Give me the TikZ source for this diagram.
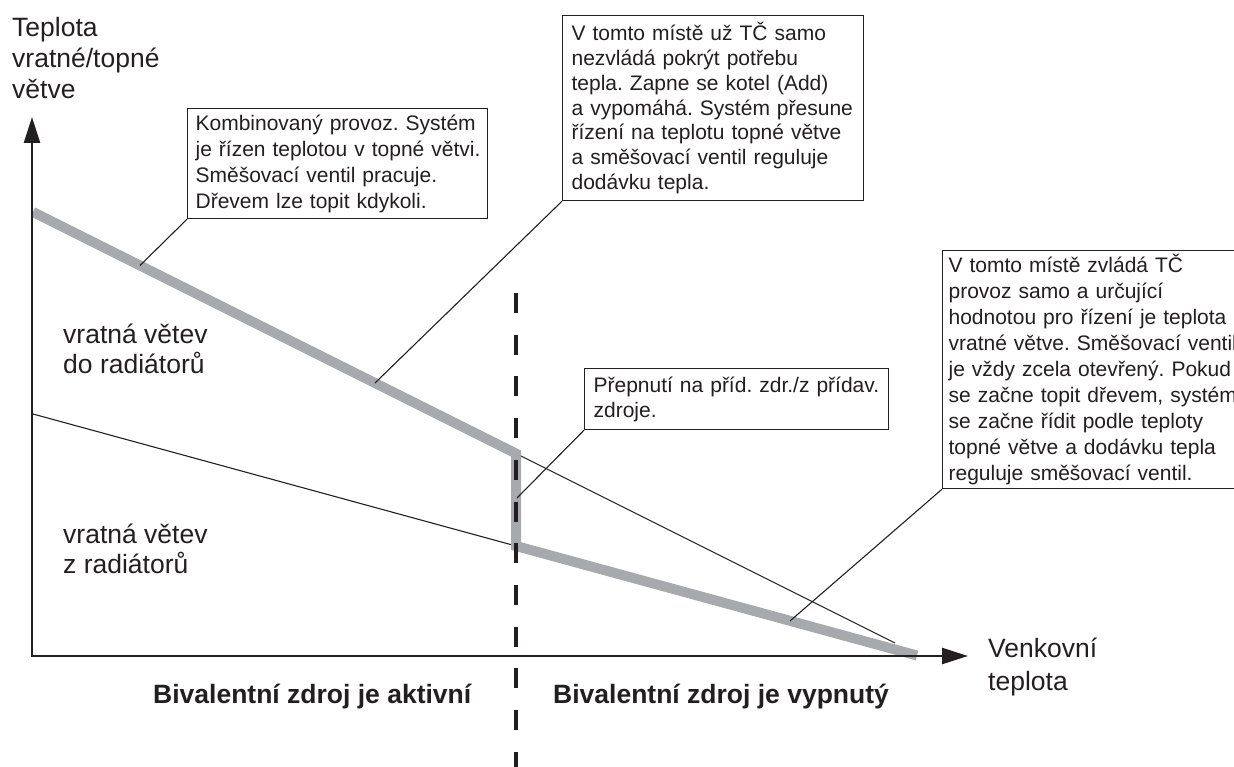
\documentclass[tikz,border=0pt]{standalone}
\usepackage{fontspec}
\setmainfont{Liberation Sans}
\usetikzlibrary{arrows.meta}
\definecolor{ink}{HTML}{231F20}
\definecolor{band}{HTML}{A7A9AC}
\frenchspacing
\begin{document}
\begin{tikzpicture}[x=1pt,y=-1pt,
  lbl/.style={inner sep=0pt, anchor=base west, text=ink, font=\fontsize{26.5}{30}\selectfont},
  blbl/.style={inner sep=0pt, anchor=base west, text=ink, font=\bfseries\fontsize{26.5}{30}\selectfont},
  callout/.style={draw=ink, line width=1.2pt, anchor=north west, align=left, text=ink, inner ysep=0pt, fill=white},
  leader/.style={draw=ink, line width=1.1pt},
  thinline/.style={draw=ink, line width=1.1pt},
  axis/.style={draw=ink, line width=2.5pt, {Triangle[length=26pt,width=16pt]}-{Triangle[length=26pt,width=16pt]}},
  bandline/.style={draw=band, line width=10pt},
  divider/.style={draw=ink, line width=4pt, dash pattern=on 20pt off 21.7pt}]
\useasboundingbox (0,0) rectangle (1234,767);

% coordinates
\coordinate (O) at (32,656);
\coordinate (ytip) at (32,117);
\coordinate (xtip) at (968,656);
\coordinate (g0) at (33,212);
\coordinate (g1) at (516,453.5);
\coordinate (g2) at (516,546);
\coordinate (g3) at (917,655.5);
\coordinate (t1) at (895,643);
\coordinate (t0) at (33,414);
\coordinate (d0) at (516,293);
\coordinate (d1) at (516,772);

% thin continuation lines
\draw[thinline] (g1) -- (t1);
\draw[thinline] (t0) -- (g2);

% gray characteristic
\draw[bandline] (g0) -- (g1) -- (g2) -- (g3);

% axes
\draw[axis] (ytip) -- (O) -- (xtip);

% divider
\draw[divider] (d0) -- (d1);

% axis labels
\node[lbl] (ya1) at (12,37) {Teplota};
\node[lbl] (ya2) at (12,68) {vratné/topné};
\node[lbl] (ya3) at (12,99) {větve};
\node[lbl] (xa1) at (988,657) {Venkovní};
\node[lbl] (xa2) at (988,690) {teplota};

\node[lbl] (r1) at (63,343) {vratná větev};
\node[lbl] (r2) at (63,373) {do radiátorů};
\node[lbl] (r3) at (63,543) {vratná větev};
\node[lbl] (r4) at (63,573) {z radiátorů};

\node[blbl] (b1) at (153,703) {Bivalentní zdroj je aktivní};
\node[blbl] (b2) at (553,703) {Bivalentní zdroj je vypnutý};

% callouts
\node[callout, inner xsep=8pt, text width=284pt, minimum height=110pt, font=\fontsize{21}{26}\selectfont] (c1) at (187,108)
 {\mbox{Kombinovaný provoz. Systém}\\\mbox{je řízen teplotou v topné větvi.}\\\mbox{Směšovací ventil pracuje.}\\\mbox{Dřevem lze topit kdykoli.}};
\node[callout, inner xsep=9pt, text width=283pt, minimum height=185pt, font=\fontsize{21}{24.7}\selectfont] (c2) at (562,15)
 {\mbox{V tomto místě už TČ samo}\\\mbox{nezvládá pokrýt potřebu}\\\mbox{tepla. Zapne se kotel (Add)}\\\mbox{a vypomáhá. Systém přesune}\\\mbox{řízení na teplotu topné větve}\\\mbox{a směšovací ventil reguluje}\\\mbox{dodávku tepla.}};
\node[callout, inner xsep=6pt, text width=330pt, minimum height=238pt, font=\fontsize{21}{26}\selectfont] (c3) at (942,250)
 {\mbox{V tomto místě zvládá TČ}\\\mbox{provoz samo a určující}\\\mbox{hodnotou pro řízení je teplota}\\\mbox{vratné větve. Směšovací ventil}\\\mbox{je vždy zcela otevřený. Pokud}\\\mbox{se začne topit dřevem, systém}\\\mbox{se začne řídit podle teploty}\\\mbox{topné větve a dodávku tepla}\\\mbox{reguluje směšovací ventil.}};
\node[callout, inner xsep=9pt, text width=286pt, minimum height=61pt, font=\fontsize{21}{25}\selectfont] (c4) at (584,368)
 {\mbox{Přepnutí na příd. zdr./z přídav.}\\\mbox{zdroje.}};

% leaders
\coordinate (l1) at (140,265.5);
\coordinate (l2) at (375,383);
\coordinate (l3) at (790,621);
\coordinate (l4) at (517,498);
\draw[leader] (c1.south west) -- (l1);
\draw[leader] (c2.south west) -- (l2);
\draw[leader] (c3.south west) -- (l3);
\draw[leader] (c4.south west) -- (l4);
\end{tikzpicture}
\end{document}
